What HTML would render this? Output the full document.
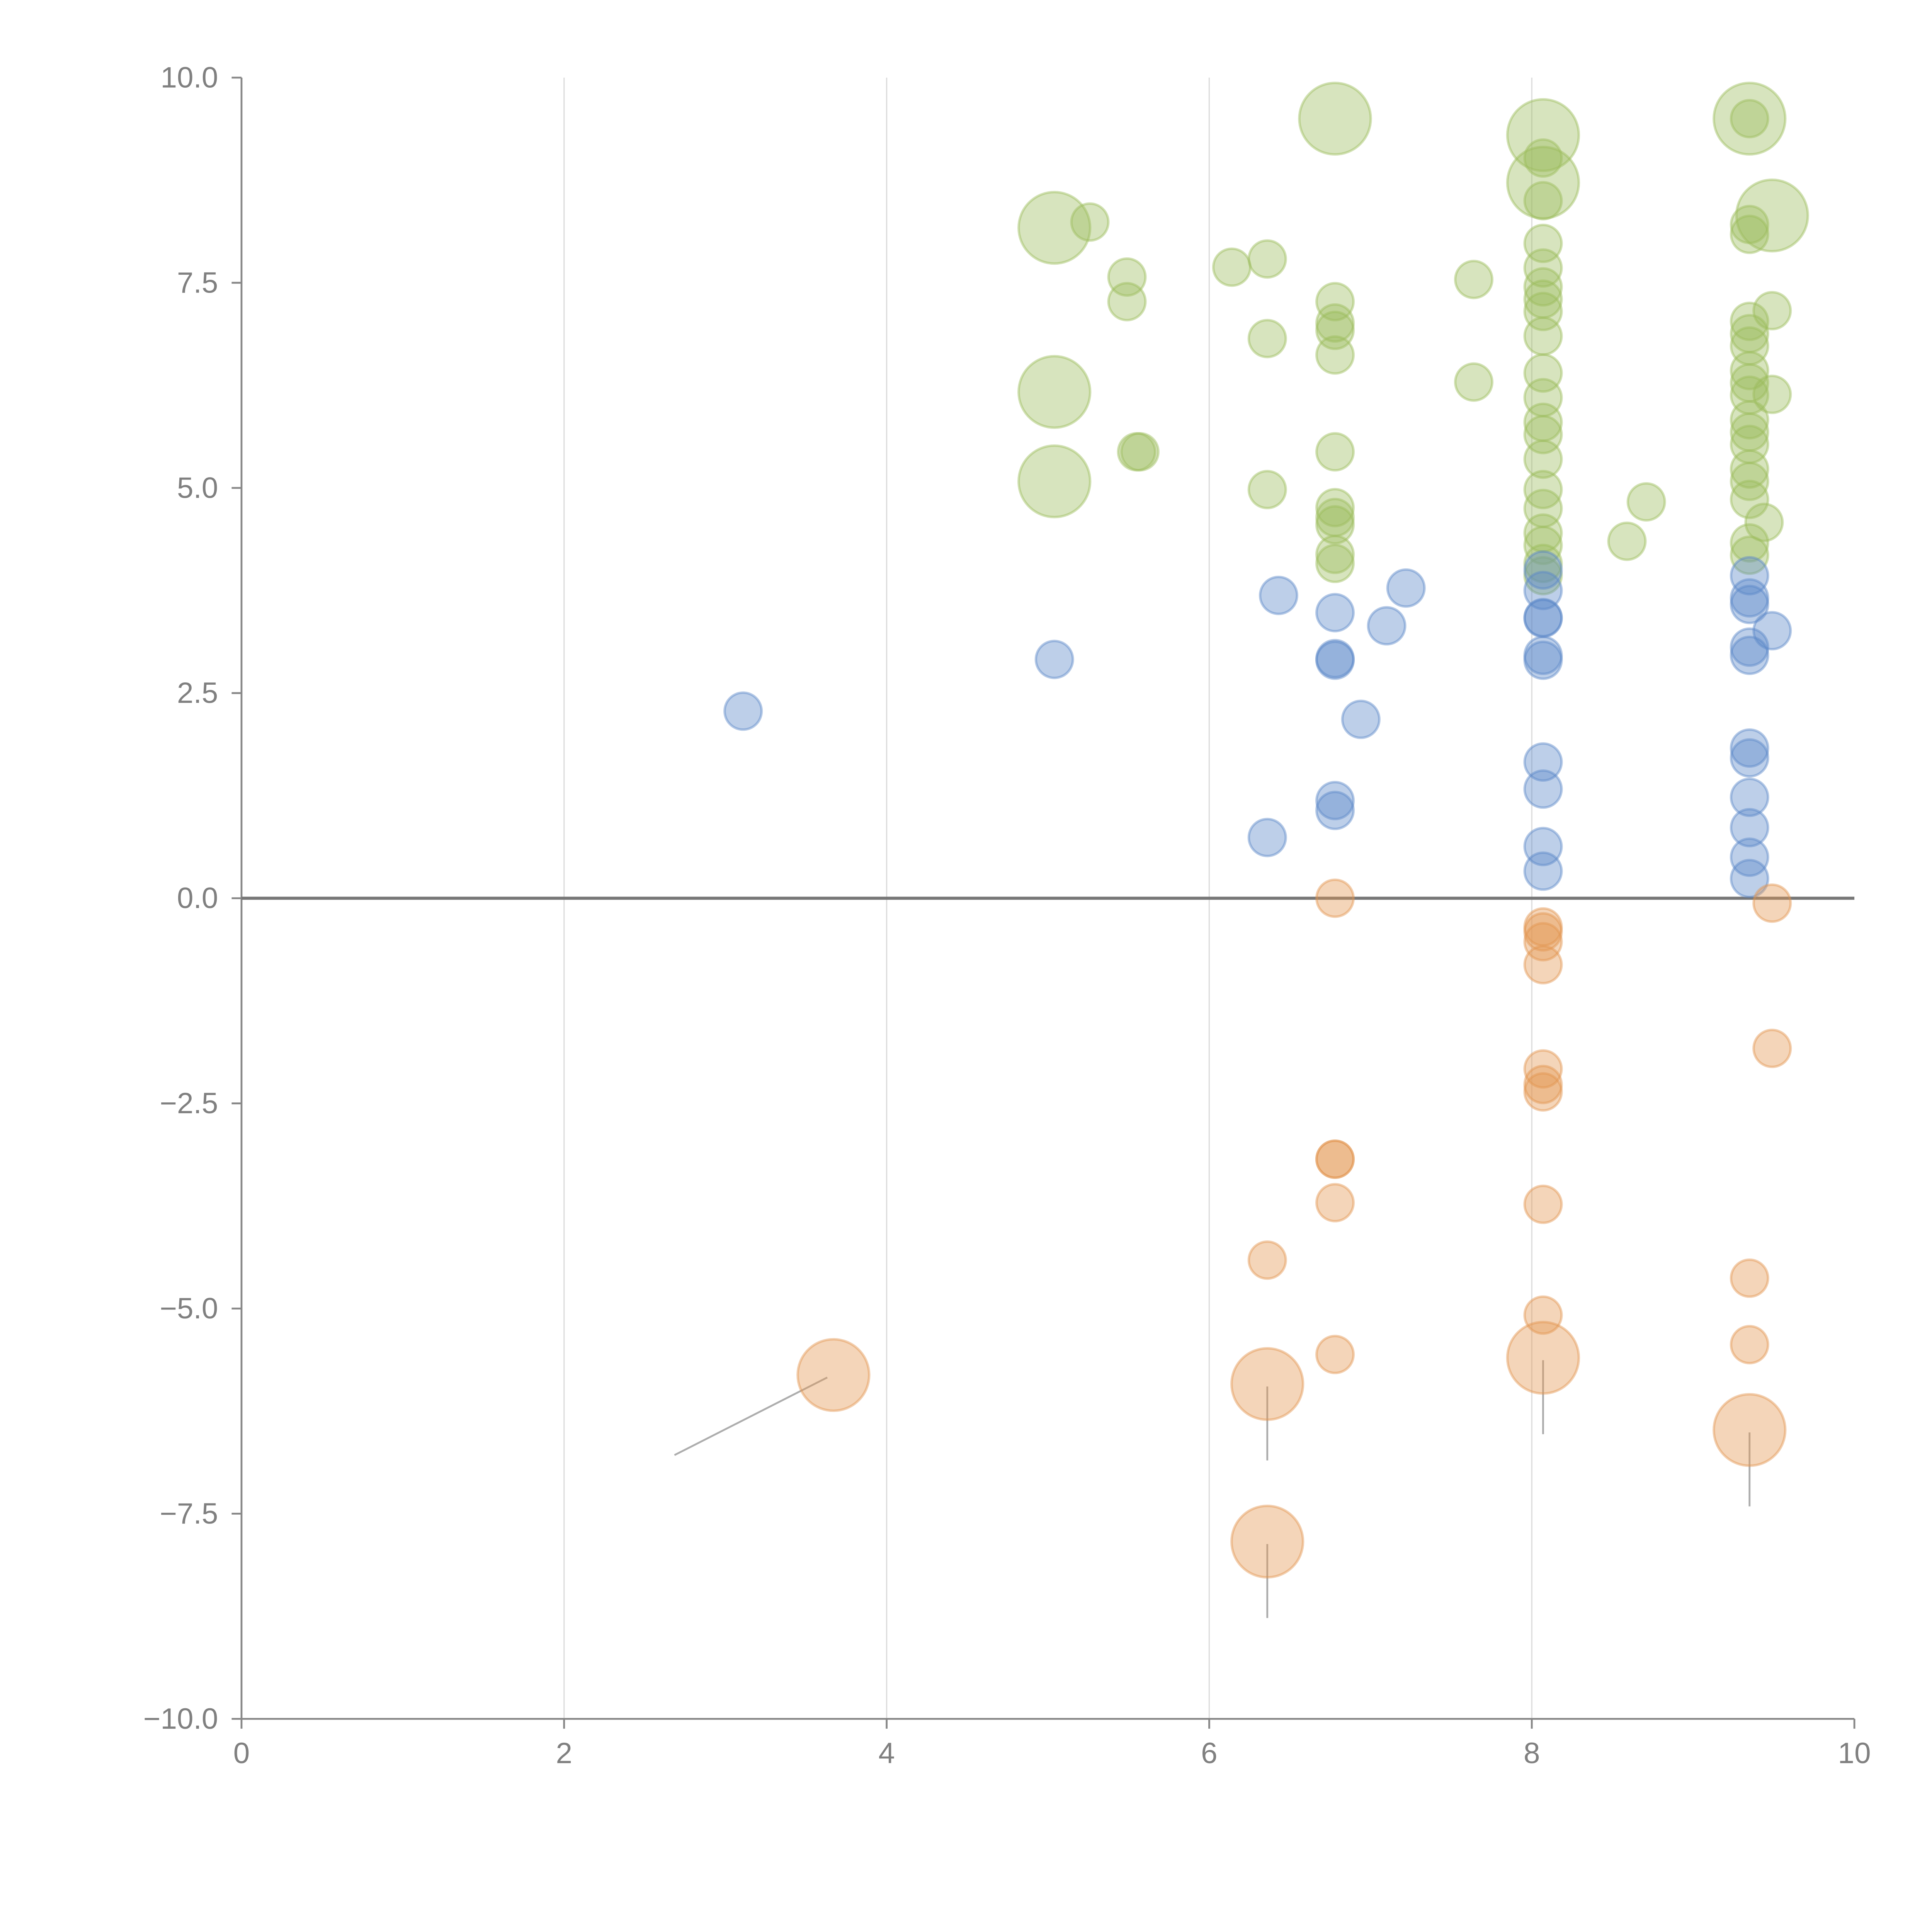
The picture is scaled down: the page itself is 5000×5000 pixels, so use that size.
<!DOCTYPE html>
<html><head><meta charset="utf-8"><style>
html,body{margin:0;padding:0;background:#fff}
svg{display:block}
text{font-family:"Liberation Sans",sans-serif;fill:#808080}
</style></head><body>
<svg id="chart" width="5000" height="5000" viewBox="0 0 1568 1568" xmlns="http://www.w3.org/2000/svg">
<g id="grid"></g>
<g id="axes"></g>
<g id="leaders"></g>
<g id="marks"></g>
</svg>
<script>
const xTicks=[0,2,4,6,8,10];
const yTicks=[10,7.5,5,2.5,0,-2.5,-5,-7.5,-10];
const yTickLabels=["10.0","7.5","5.0","2.5","0.0","\u22122.5","\u22125.0","\u22127.5","\u221210.0"];
// green series
const greenX=[6.78,8.07,8.07,9.35,9.35,9.49,5.04,5.26,5.49,5.49,6.14,6.36,6.36,6.78,6.78,6.78,6.78,7.64,7.64,5.04,5.55,5.57,5.04,6.36,6.78,6.78,6.78,6.78,6.78,6.78,8.71,8.59,9.49,9.49,9.44,
8.07,8.07,8.07,8.07,8.07,8.07,8.07,8.07,8.07,8.07,8.07,8.07,8.07,8.07,8.07,8.07,8.07,8.07,8.07,
9.35,9.35,9.35,9.35,9.35,9.35,9.35,9.35,9.35,9.35,9.35,9.35,9.35,9.35,9.35,9.35];
const greenY=[9.5,9.3,8.72,9.5,9.5,8.32,8.17,8.24,7.57,7.27,7.69,7.79,6.82,7.27,7.01,6.92,6.62,7.54,6.29,6.17,5.44,5.44,5.08,4.98,5.44,4.76,4.64,4.55,4.19,4.08,4.83,4.35,6.14,7.16,4.58,
9.02,8.5,7.98,7.68,7.45,7.3,7.15,6.85,6.4,6.1,5.8,5.65,5.35,4.98,4.75,4.45,4.3,4.08,3.93,
8.21,8.09,7.03,6.88,6.73,6.43,6.28,6.13,5.83,5.68,5.53,5.23,5.08,4.86,4.33,4.18];
const greenS=[1,1,1,1,0,1,1,0,0,0,0,0,0,0,0,0,0,0,0,1,0,0,1,0,0,0,0,0,0,0,0,0,0,0,0,
0,0,0,0,0,0,0,0,0,0,0,0,0,0,0,0,0,0,0,
0,0,0,0,0,0,0,0,0,0,0,0,0,0,0,0];
// blue series
const blueX=[3.11,5.04,6.43,6.78,6.78,6.78,7.1,7.22,6.94,6.78,6.78,6.36,
8.07,8.07,8.07,8.07,8.07,8.07,8.07,8.07,8.07,8.07,
9.35,9.35,9.35,9.35,9.35,9.35,9.35,9.35,9.35,9.35,9.35,9.49];
const blueY=[2.28,2.91,3.69,3.48,2.9,2.92,3.32,3.78,2.18,1.19,1.07,0.74,
4.0,3.75,3.42,3.41,2.96,2.9,1.66,1.33,0.63,0.33,
3.93,3.66,3.58,3.06,2.96,1.83,1.71,1.23,0.86,0.5,0.24,3.26];
const blueS=[0,0,0,0,0,0,0,0,0,0,0,0,0,0,0,0,0,0,0,0,0,0,0,0,0,0,0,0,0,0,0,0,0,0];
// orange series
const orangeX=[6.78,9.49,9.49,8.07,8.07,8.07,8.07,8.07,8.07,8.07,8.07,8.07,8.07,6.78,6.78,6.78,6.78,6.36,6.36,6.36,3.67,9.35,9.35,9.35];
const orangeY=[0,-0.06,-1.83,-0.35,-0.41,-0.53,-0.81,-2.08,-2.27,-2.36,-3.73,-5.08,-5.6,-3.18,-3.18,-3.71,-5.56,-4.41,-5.92,-7.84,-5.81,-4.63,-5.44,-6.48];
const orangeS=[0,0,0,0,0,0,0,0,0,0,0,0,1,0,0,0,0,0,1,1,1,0,0,1];

const X0=196,X1=1505,Y0=63,Y1=1395;
const sx=v=>X0+(v-0)/(10-0)*(X1-X0);
const sy=v=>Y0+(10-v)/(20)*(Y1-Y0);
const NS="http://www.w3.org/2000/svg";
function mk(tag,attrs,parent){const e=document.createElementNS(NS,tag);for(const k in attrs)e.setAttribute(k,attrs[k]);parent.appendChild(e);return e;}
const grid=document.getElementById('grid'),axes=document.getElementById('axes'),marks=document.getElementById('marks'),leaders=document.getElementById('leaders');
xTicks.forEach(t=>{
  if(t>0&&t<10){const g=mk('line',{x1:sx(t),x2:sx(t),y1:Y0,y2:Y1,stroke:'#dcdcdc','stroke-width':1},grid);
  
  }
  const tk=mk('line',{x1:sx(t),x2:sx(t),y1:Y1,y2:Y1+8,stroke:'#888','stroke-width':1.5},axes);
  
  
  const tl=mk('text',{x:sx(t),y:Y1+36,'text-anchor':'middle','font-size':24},axes);tl.textContent=String(t);
  
  
});
yTicks.forEach((t,i)=>{
  const tk=mk('line',{x1:X0-8,x2:X0,y1:sy(t),y2:sy(t),stroke:'#888','stroke-width':1.5},axes);
  
  
  const tl=mk('text',{x:X0-19,y:sy(t)+8,'text-anchor':'end','font-size':24},axes);tl.textContent=yTickLabels[i];
  
  
});
const ya=mk('line',{x1:X0,x2:X0,y1:Y0,y2:Y1,stroke:'#888','stroke-width':1.5},axes);


const xa=mk('line',{x1:X0,x2:X1,y1:Y1,y2:Y1,stroke:'#888','stroke-width':1.5},axes);


const zl=mk('line',{x1:X0,x2:X1,y1:sy(0),y2:sy(0),stroke:'#777','stroke-width':2.5},axes);



function series(xs,ys,ss,col,name){
  xs.forEach((x,i)=>{
    const r=ss[i]?29:15;
    const c=mk('circle',{cx:sx(x),cy:sy(ys[i]),r:r,fill:col,'fill-opacity':0.4,stroke:col,'stroke-opacity':0.45,'stroke-width':2},marks);
    
    
    if(name==='orange-bubble'&&ss[i]){
      const l=mk('line',{x1:sx(x),y1:sy(ys[i])+2,x2:sx(x),y2:sy(ys[i])+62,stroke:'#999','stroke-width':1.5,'stroke-opacity':0.8},leaders);
      if(x<5){l.setAttribute('x1',sx(x)-5);l.setAttribute('x2',sx(x)-129);l.setAttribute('y2',sy(ys[i])+65);}
      
      
    }
  });
}
series(greenX,greenY,greenS,'#9cbc5c','green-bubble');
series(blueX,blueY,blueS,'#5b88c8','blue-bubble');
series(orangeX,orangeY,orangeS,'#e3954f','orange-bubble');
</script>
</body></html>
